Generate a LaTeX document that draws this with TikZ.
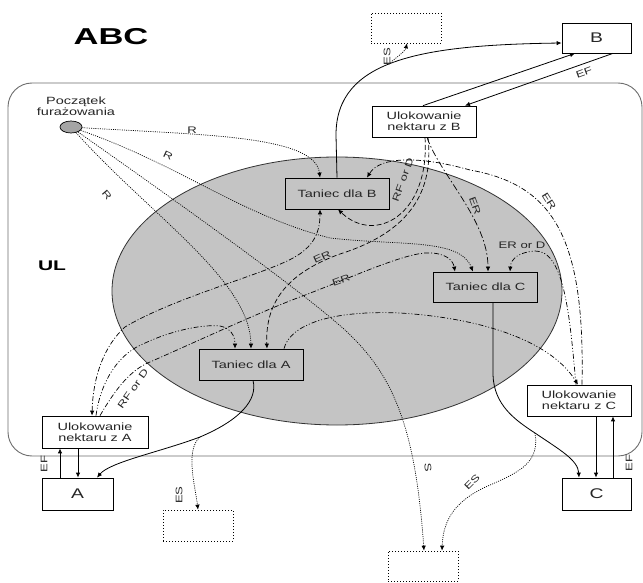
\documentclass[tikz,border=0pt]{standalone}
\usepackage{fontspec}
\setmainfont{Liberation Sans}
\newfontfamily\lab[FakeStretch=1.38]{Liberation Sans}
\newfontfamily\bigf[FakeStretch=1.5]{Liberation Sans}
\usetikzlibrary{arrows.meta,shapes.geometric}
\definecolor{ellgray}{RGB}{196,196,196}
\definecolor{framegray}{RGB}{110,110,110}
\definecolor{startgray}{RGB}{165,165,165}
\begin{document}
\begin{tikzpicture}[x=1pt,y=-1pt,
  every node/.style={font=\lab\fontsize{10.5}{11}\selectfont, text=black!85},
  box/.style={draw, line width=0.75pt, fill=white, minimum width=104pt, minimum height=31pt, inner sep=1pt, align=center},
  dance/.style={box, fill=ellgray},
  src/.style={draw, line width=0.75pt, fill=white, minimum width=69pt, minimum height=31pt, font=\lab\fontsize{14}{16}\selectfont},
  ghost/.style={draw, dash pattern=on 0.8pt off 2.2pt, line width=0.7pt, minimum width=70pt, minimum height=30pt},
  lbl/.style={font=\lab\fontsize{9.5}{10}\selectfont, inner sep=0pt},
  tip/.style={-{Latex[length=5pt,width=4.5pt]}},
  sline/.style={tip, line width=0.8pt},
  dotline/.style={tip, line width=0.7pt, dash pattern=on 1pt off 1.2pt},
  ddot/.style={tip, line width=0.7pt, dash pattern=on 5pt off 2pt on 1pt off 2pt},
  dddot/.style={tip, line width=0.7pt, dash pattern=on 5pt off 2pt on 1pt off 2pt on 1pt off 2pt},
  ldash/.style={tip, line width=0.7pt, dash pattern=on 7pt off 2.5pt on 1.5pt off 2.5pt},
  mdash/.style={tip, line width=0.7pt, dash pattern=on 5pt off 2.5pt}
]
\useasboundingbox (0,0) rectangle (643,583);
\fill[white] (0,0) rectangle (643,583);

% frame and big ellipse
\draw[framegray, line width=0.9pt, rounded corners=24pt] (8,83) rectangle (642,456);
\filldraw[fill=ellgray, draw=black!80, line width=0.8pt] (337,291) ellipse [x radius=225pt, y radius=134pt];

% titles
\node[font=\bigf\bfseries\fontsize{23}{24}\selectfont, text=black] (abc) at (111,37) {ABC};
\node[font=\bigf\bfseries\fontsize{14}{15}\selectfont, text=black] (ul) at (52,266) {UL};

% start
\node[draw, ellipse, fill=startgray, line width=0.7pt, minimum width=22pt, minimum height=12pt, inner sep=0pt] (st) at (71,127) {};
\node[align=center, font=\lab\fontsize{10.5}{10.5}\selectfont] (stl) at (76,106) {Początek\\furażowania};

% boxes
\node[dance] (tb) at (337,193.5) {Taniec dla B};
\node[dance, minimum height=30pt] (tc) at (485.5,287) {Taniec dla C};
\node[dance] (ta) at (251,364.5) {Taniec dla A};
\node[box] (ub) at (424,121.5) {Ulokowanie\\nektaru z B};
\node[box, minimum width=106pt, minimum height=32pt] (ua) at (95,432) {Ulokowanie\\nektaru z A};
\node[box] (uc) at (579,400.5) {Ulokowanie\\nektaru z C};
\node[src, minimum height=30pt] (bB) at (596.5,38) {B};
\node[src, minimum width=71pt, minimum height=32pt] (bA) at (77.5,494) {A};
\node[src, minimum height=32pt] (bC) at (596.5,494) {C};
\node[ghost] (d1) at (406,28) {};
\node[ghost, minimum height=31pt] (d2) at (198,525.5) {};
\node[ghost] (d3) at (423,566) {};

% solid connectors
\draw[sline] (tb.north) -- (336,135) .. controls (336,60) and (420,45) .. ([yshift=-5pt]bB.west) coordinate[pos=0.47] (es1);
\draw[sline] ([xshift=-1pt]ub.north) -- ([xshift=-21.5pt]bB.south);
\draw[sline] ([xshift=16.5pt]bB.south) -- ([xshift=41pt]ub.north);
\node[lbl, rotate=20] (efb) at (584,73) {EF};

\draw[sline] ([xshift=2pt]ta.south) .. controls (258,400) and (240,420) .. (200,437) coordinate (es2) .. controls (160,452) and (110,462) .. ([xshift=19.5pt]bA.north);
\draw[sline] ([xshift=-17.5pt]bA.north) -- ([xshift=-35pt]ua.south);
\draw[sline] ([xshift=-17pt]ua.south) -- ([xshift=0.5pt]bA.north);
\node[lbl, rotate=90] (efa) at (44,464) {EF};

\draw[sline] ([xshift=7.5pt]tc.south) -- (493,375) .. controls (494,405) and (515,420) .. (535,433) coordinate (es3) .. controls (560,450) and (578,460) .. ([xshift=-17.5pt]bC.north);
\draw[sline] ([xshift=17pt]uc.south) -- ([xshift=-0.5pt]bC.north);
\draw[sline] ([xshift=16.5pt]bC.north) -- ([xshift=34pt]uc.south);
\node[lbl, rotate=90] (efc) at (629,463) {EF};

% ES (dotted)
\draw[dotline] (es1) .. controls (395,58) and (405,52) .. ([xshift=1pt]d1.south);
\node[lbl, rotate=90] (es1l) at (387,57) {ES};
\draw[dotline] (es2) .. controls (185,450) and (195,485) .. (d2.north);
\node[lbl, rotate=90] (es2l) at (179,495) {ES};
\draw[dotline] (es3) .. controls (540,462) and (520,472) .. (490,485) .. controls (455,500) and (443,520) .. ([xshift=19pt]d3.north);
\node[lbl, rotate=45] (es3l) at (472,482) {ES};

% from start
\draw[dotline] (st) .. controls (200,135) and (315,135) .. ([xshift=-17pt]tb.north);
\node[lbl] (r1) at (192,130) {R};
\draw[dotline] (st) .. controls (180,165) and (240,215) .. (330,238) .. controls (400,246) and (460,238) .. ([xshift=-12.5pt]tc.north);
\node[lbl, rotate=-25] (r2) at (168,156) {R};
\draw[dotline] (st) .. controls (150,215) and (250,280) .. (ta.north);
\node[lbl, rotate=-50] (r3) at (107,195) {R};
\draw[dotline] (st) .. controls (200,218) and (300,290) .. (345,330) .. controls (390,372) and (415,420) .. ([xshift=1pt]d3.north);
\node[lbl, rotate=-85] (sl) at (428,468) {S};

% from Ulokowanie nektaru z B
\draw[ldash] ([xshift=3pt]ub.south) .. controls (440,175) and (488,220) .. ([xshift=2.5pt]tc.north);
\node[lbl, rotate=-70] (erbc) at (475,206) {ER};
\draw[mdash] ([xshift=1pt]ub.south) .. controls (430,215) and (375,245) .. ([xshift=1pt]tb.south);
\node[lbl, rotate=70] (rfb) at (403,180) {RF or D};
\draw[mdash] ([xshift=4pt]ub.south) .. controls (435,200) and (400,235) .. (340,254) .. controls (290,272) and (265,300) .. ([xshift=16pt]ta.north);
\node[lbl, rotate=25] (erba) at (322,257) {ER};

% around the right side to Ulokowanie nektaru z C
\draw[ddot] ([xshift=3pt]uc.north) .. controls (585,240) and (555,185) .. (470,170) .. controls (420,156) and (380,156) .. ([xshift=30pt]tb.north);
\node[lbl, rotate=-58] (erout) at (549,201) {ER};
\draw[dddot] ([xshift=-3pt]uc.north) .. controls (570,320) and (565,250) .. (535,251) .. controls (520,252) and (511,258) .. ([xshift=24.5pt]tc.north);
\node[lbl] (erd) at (522,245) {ER or D};
\draw[dddot] ([xshift=33pt]ta.north) .. controls (290,325) and (330,310) .. (400,313) .. controls (480,318) and (550,340) .. ([xshift=-1pt]uc.north);

% from Ulokowanie nektaru z A
\draw[ddot, {Latex[length=5pt,width=4.5pt]}-{Latex[length=5pt,width=4.5pt]}] ([xshift=-3pt]ua.north) .. controls (93,375) and (105,345) .. (125,327) .. controls (170,300) and (250,278) .. (285,262) .. controls (312,250) and (320,235) .. ([xshift=-17pt]tb.south);
\draw[dddot] ([xshift=1pt]ua.north) .. controls (100,385) and (115,360) .. (135,348) .. controls (165,332) and (200,324) .. (220,326) .. controls (230,328) and (235,335) .. ([xshift=-16pt]ta.north);
\draw[ddot] ([xshift=5pt]ua.north) .. controls (115,390) and (130,370) .. (150,362) .. controls (200,340) and (260,312) .. (300,297) .. controls (350,278) and (400,255) .. (425,253) .. controls (445,252) and (453,260) .. ([xshift=-30.5pt]tc.north);
\node[lbl, rotate=55] (rfa) at (133,389) {RF or D};
\node[lbl, rotate=20] (erac) at (341,280) {ER};
\end{tikzpicture}
\end{document}
